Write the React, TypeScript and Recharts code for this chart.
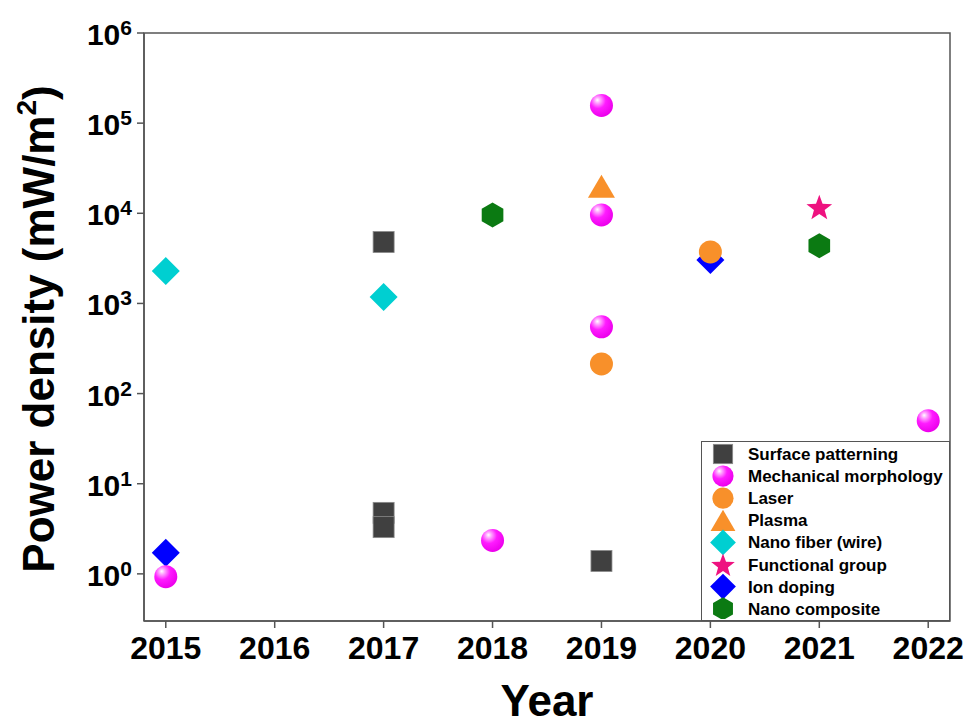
import React from 'react';
import { ScatterChart, Scatter, XAxis, YAxis, ReferenceArea } from 'recharts';

// ---- data ----
const YEAR_TICKS = [2015, 2016, 2017, 2018, 2019, 2020, 2021, 2022];
const POWER_TICKS = [1, 10, 100, 1000, 10000, 100000, 1000000];

const surfaceYears = [2017, 2017, 2017, 2019];
const surfaceValues = [4800, 4.75, 3.3, 1.39];
const mechYears = [2015, 2018, 2019, 2019, 2019, 2022];
const mechValues = [0.93, 2.35, 157000, 9600, 550, 50];
const laserYears = [2019, 2020];
const laserValues = [213, 3730];
const plasmaYears = [2019];
const plasmaValues = [20000];
const fiberYears = [2015, 2017];
const fiberValues = [2290, 1180];
const functionalYears = [2021];
const functionalValues = [11800];
const ionYears = [2015, 2020];
const ionValues = [1.71, 3030];
const compositeYears = [2018, 2021];
const compositeValues = [9600, 4370];

const SERIES_NAMES = [
  'Surface patterning',
  'Mechanical morphology',
  'Laser',
  'Plasma',
  'Nano fiber (wire)',
  'Functional group',
  'Ion doping',
  'Nano composite',
];

const toPoints = (xs: number[], ys: number[]) => xs.map((x, i) => ({ x, y: ys[i] }));

// ---- styles ----
const FONT = '"Liberation Sans", Arial, Helvetica, sans-serif';
const AXIS_COLOR = '#555555';
const COLORS = {
  surface: '#404040',
  mech: '#ff00ff',
  laser: '#f8902a',
  fiber: '#00cfd1',
  functional: '#ee1280',
  ion: '#0000ff',
  composite: '#0b7a12',
};

type ShapeKind = 'square' | 'sphere' | 'circle' | 'triangle' | 'star' | 'hexagon';

function Marker({ kind, cx, cy, scale = 1 }: { kind: ShapeKind; cx: number; cy: number; scale?: number }) {
  if (cx == null || cy == null || isNaN(cx) || isNaN(cy)) return null;
  switch (kind) {
    case 'square': {
      const s = 21 * scale;
      return <rect x={cx - s / 2} y={cy - s / 2} width={s} height={s} fill={COLORS.surface} stroke="#8a8a8a" strokeWidth={0.8} />;
    }
    case 'sphere':
      return <circle cx={cx} cy={cy} r={11.5 * scale} fill="url(#sphereGrad)" />;
    case 'circle':
      return <circle cx={cx} cy={cy} r={11.5 * scale} fill={COLORS.laser} />;
    case 'triangle': {
      const w = 27 * scale;
      const h = 23 * scale;
      return (
        <polygon
          points={`${cx},${cy - h / 2} ${cx - w / 2},${cy + h / 2} ${cx + w / 2},${cy + h / 2}`}
          fill={COLORS.laser}
        />
      );
    }
    case 'star': {
      const ro = 13.5 * scale;
      const ri = 5.6 * scale;
      const pts: string[] = [];
      for (let i = 0; i < 10; i++) {
        const r = i % 2 === 0 ? ro : ri;
        const a = -Math.PI / 2 + (i * Math.PI) / 5;
        pts.push(`${cx + r * Math.cos(a)},${cy + 1.5 * scale + r * Math.sin(a)}`);
      }
      return <polygon points={pts.join(' ')} fill={COLORS.functional} />;
    }
    case 'hexagon': {
      const r = 12.5 * scale;
      const pts: string[] = [];
      for (let i = 0; i < 6; i++) {
        const a = -Math.PI / 2 + (i * Math.PI) / 3;
        pts.push(`${cx + r * Math.cos(a)},${cy + r * Math.sin(a)}`);
      }
      return <polygon points={pts.join(' ')} fill={COLORS.composite} />;
    }
  }
  return null;
}

function Diamond({ cx, cy, color, scale = 1 }: { cx: number; cy: number; color: string; scale?: number }) {
  if (cx == null || cy == null || isNaN(cx) || isNaN(cy)) return null;
  const r = 14 * scale;
  return <polygon points={`${cx},${cy - r} ${cx + r},${cy} ${cx},${cy + r} ${cx - r},${cy}`} fill={color} />;
}

const LEGEND_ICONS: ((cx: number, cy: number) => React.ReactNode)[] = [
  (cx, cy) => <Marker kind="square" cx={cx} cy={cy} scale={0.92} />,
  (cx, cy) => <Marker kind="sphere" cx={cx} cy={cy} scale={0.92} />,
  (cx, cy) => <Marker kind="circle" cx={cx} cy={cy} scale={0.92} />,
  (cx, cy) => <Marker kind="triangle" cx={cx} cy={cy} scale={0.92} />,
  (cx, cy) => <Diamond cx={cx} cy={cy} color={COLORS.fiber} scale={0.92} />,
  (cx, cy) => <Marker kind="star" cx={cx} cy={cy} scale={0.92} />,
  (cx, cy) => <Diamond cx={cx} cy={cy} color={COLORS.ion} scale={0.92} />,
  (cx, cy) => <Marker kind="hexagon" cx={cx} cy={cy} scale={0.92} />,
];

function XTick(props: any) {
  const { x, payload } = props;
  return (
    <text x={x} y={659} textAnchor="middle" fontSize={32} fontWeight="bold" fontFamily={FONT} fill="#000">
      {payload.value}
    </text>
  );
}

function YTick(props: any) {
  const { x, y, payload } = props;
  const exp = Math.round(Math.log10(payload.value));
  return (
    <text x={x - 3} y={y + 12} textAnchor="end" fontFamily={FONT} fontWeight="bold" fill="#000">
      <tspan fontSize={30}>10</tspan>
      <tspan fontSize={21} dy={-10}>{exp}</tspan>
    </text>
  );
}

function YLabel() {
  const cx = 54;
  const cy = 329;
  return (
    <text
      x={cx}
      y={cy}
      transform={`rotate(-90, ${cx}, ${cy})`}
      textAnchor="middle"
      fontFamily={FONT}
      fontWeight="bold"
      fontSize={44}
      fill="#000"
    >
      <tspan>Power density (mW/m</tspan>
      <tspan fontSize={28} dy={-18}>2</tspan>
      <tspan dy={18}>)</tspan>
    </text>
  );
}

function XLabel() {
  return (
    <text x={547} y={716} textAnchor="middle" fontFamily={FONT} fontWeight="bold" fontSize={44} fill="#000">
      Year
    </text>
  );
}

export default function App() {
  return (
    <div style={{ position: 'absolute', left: 0, top: 0, width: 964, height: 726, background: '#fff' }}>
      <svg width={0} height={0} style={{ position: 'absolute' }}>
        <defs>
          <radialGradient id="sphereGrad" cx="0.38" cy="0.32" r="0.68" fx="0.32" fy="0.26">
            <stop offset="0" stopColor="#ffffff" />
            <stop offset="0.18" stopColor="#ffa6ff" />
            <stop offset="0.5" stopColor="#ff1cff" />
            <stop offset="1" stopColor="#ec00ec" />
          </radialGradient>
        </defs>
      </svg>
      <ScatterChart width={964} height={726} margin={{ top: 33, right: 14, bottom: 0, left: 0 }}>
        <XAxis
          type="number"
          dataKey="x"
          domain={[2014.8, 2022.2]}
          ticks={YEAR_TICKS}
          allowDataOverflow
          height={105}
          tickSize={7}
          tick={<XTick />}
          axisLine={{ stroke: AXIS_COLOR, strokeWidth: 1.5 }}
          tickLine={{ stroke: AXIS_COLOR, strokeWidth: 1.5 }}
          label={{ content: () => <XLabel /> }}
        />
        <YAxis
          type="number"
          dataKey="y"
          scale="log"
          domain={[0.3, 1000000]}
          ticks={POWER_TICKS}
          allowDataOverflow
          width={144}
          tickSize={7}
          tick={<YTick />}
          axisLine={{ stroke: AXIS_COLOR, strokeWidth: 1.5 }}
          tickLine={{ stroke: AXIS_COLOR, strokeWidth: 1.5 }}
          label={{ content: () => <YLabel /> }}
        />
        <ReferenceArea
          x1={2014.8}
          x2={2022.2}
          y1={0.3}
          y2={1000000}
          fill="none"
          stroke={AXIS_COLOR}
          strokeWidth={1.5}
          ifOverflow="visible"
        />
        <Scatter
          name={SERIES_NAMES[0]}
          data={toPoints(surfaceYears, surfaceValues)}
          isAnimationActive={false}
          shape={(p: any) => <Marker kind="square" cx={p.cx} cy={p.cy} />}
        />
        <Scatter
          name={SERIES_NAMES[6]}
          data={toPoints(ionYears, ionValues)}
          isAnimationActive={false}
          shape={(p: any) => <Diamond cx={p.cx} cy={p.cy} color={COLORS.ion} />}
        />
        <Scatter
          name={SERIES_NAMES[1]}
          data={toPoints(mechYears, mechValues)}
          isAnimationActive={false}
          shape={(p: any) => <Marker kind="sphere" cx={p.cx} cy={p.cy} />}
        />
        <Scatter
          name={SERIES_NAMES[2]}
          data={toPoints(laserYears, laserValues)}
          isAnimationActive={false}
          shape={(p: any) => <Marker kind="circle" cx={p.cx} cy={p.cy} />}
        />
        <Scatter
          name={SERIES_NAMES[3]}
          data={toPoints(plasmaYears, plasmaValues)}
          isAnimationActive={false}
          shape={(p: any) => <Marker kind="triangle" cx={p.cx} cy={p.cy} />}
        />
        <Scatter
          name={SERIES_NAMES[4]}
          data={toPoints(fiberYears, fiberValues)}
          isAnimationActive={false}
          shape={(p: any) => <Diamond cx={p.cx} cy={p.cy} color={COLORS.fiber} />}
        />
        <Scatter
          name={SERIES_NAMES[5]}
          data={toPoints(functionalYears, functionalValues)}
          isAnimationActive={false}
          shape={(p: any) => <Marker kind="star" cx={p.cx} cy={p.cy} />}
        />
        <Scatter
          name={SERIES_NAMES[7]}
          data={toPoints(compositeYears, compositeValues)}
          isAnimationActive={false}
          shape={(p: any) => <Marker kind="hexagon" cx={p.cx} cy={p.cy} />}
        />
      </ScatterChart>
      <div
        style={{
          position: 'absolute',
          left: 701,
          top: 441,
          width: 249,
          height: 180,
          boxSizing: 'border-box',
          border: `1.5px solid ${AXIS_COLOR}`,
          background: '#fff',
        }}
      >
        <svg width={246} height={177} style={{ position: 'absolute', left: 0, top: 0 }}>
          {SERIES_NAMES.map((name, i) => {
            const cy = 12 + i * 22.1;
            return (
              <g key={name}>
                {LEGEND_ICONS[i](21, cy)}
                <text x={46} y={cy + 6} fontFamily={FONT} fontWeight="bold" fontSize={17} fill="#000">
                  {name}
                </text>
              </g>
            );
          })}
        </svg>
      </div>
    </div>
  );
}
